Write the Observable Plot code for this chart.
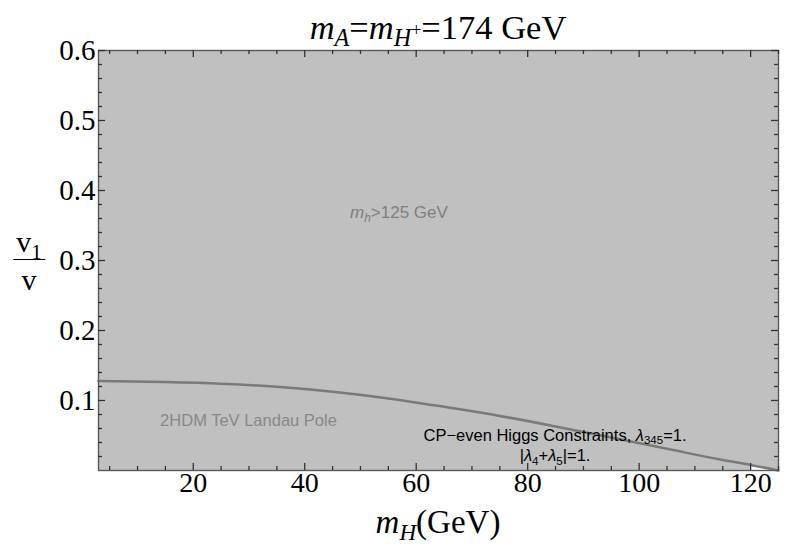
<!DOCTYPE html>
<html><head><meta charset="utf-8">
<script src="https://cdn.jsdelivr.net/npm/d3@7"></script>
<script src="https://cdn.jsdelivr.net/npm/@observablehq/plot@0.6"></script>
<style>
body{margin:0;background:#fff;}
#wrap{position:relative;width:785px;height:545px;overflow:hidden;}
.lbl{position:absolute;white-space:nowrap;line-height:1;transform:translate(-50%,-50%);}
.serif{font-family:"Liberation Serif","Times New Roman",serif;color:#000;}
.sans{font-family:"Liberation Sans",Arial,sans-serif;}
.sb{font-size:0.7em;position:relative;top:0.3em;}
.sp{font-size:0.75em;position:relative;top:-0.55em;}
.frac{display:inline-block;text-align:center;}
.frac .num{display:block;padding:0 3px 2px 3px;border-bottom:1.5px solid #000;}
.frac .den{display:block;padding-top:5px;}
</style></head><body><div id="wrap"></div>
<script>
// m_H (GeV) along the boundary curve, and v1/v on the curve
const mH    = [3,     15,     25,    35,     45,     55,    65,    75,    85,    95,    105,   115,   120,   125];
const ratio = [0.128, 0.1265, 0.124, 0.1195, 0.1125, 0.103, 0.091, 0.078, 0.063, 0.047, 0.031, 0.015, 0.008, 0.0];
const xMajor = [20, 40, 60, 80, 100, 120];
const xMinor = [5, 10, 15, 25, 30, 35, 45, 50, 55, 65, 70, 75, 85, 90, 95, 105, 110, 115, 125];
const yMajor = [0.1, 0.2, 0.3, 0.4, 0.5, 0.6];
const yMinor = [0.02,0.04,0.06,0.08,0.12,0.14,0.16,0.18,0.22,0.24,0.26,0.28,0.32,0.34,0.36,0.38,0.42,0.44,0.46,0.48,0.52,0.54,0.56,0.58];
const landauEnd = 120;

const data = mH.map((x, i) => ({x, y: ratio[i]}));
const serif = "Liberation Serif, Times New Roman, serif";
const grey = "#c0c0c0";
const tickCol = "#333";
const W = 785, H = 545, mL = 98, mR = 7, mT = 50, mB = 75;
const fw = W - mL - mR, fh = H - mT - mB;
const big = 7, small = 4;

const chart = Plot.plot({
  width: W, height: H,
  marginLeft: mL, marginRight: mR, marginTop: mT, marginBottom: mB,
  x: {domain: [3, 125], label: null},
  y: {domain: [0, 0.6], label: null},
  style: {background: "white", overflow: "visible"},
  marks: [
    Plot.areaY(data, {x: "x", y1: "y", y2: 0.6, fill: grey, curve: "monotone-x"}),
    Plot.areaY(data.filter(d => d.x <= landauEnd), {x: "x", y1: 0, y2: "y", fill: grey, curve: "monotone-x"}),
    Plot.line(data, {x: "x", y: "y", stroke: "#7a7a7a", strokeWidth: 2.5, curve: "monotone-x"}),
    Plot.frame({stroke: "#5a5a5a", strokeWidth: 1.4}),
    // inward ticks (bottom / top / left / right)
    Plot.tickX(xMajor, {x: d => d, insetTop: fh - big, stroke: tickCol, strokeWidth: 1.3}),
    Plot.tickX(xMinor, {x: d => d, insetTop: fh - small, stroke: tickCol, strokeWidth: 1.3}),
    Plot.tickX(xMajor, {x: d => d, insetBottom: fh - big, stroke: tickCol, strokeWidth: 1.3}),
    Plot.tickX(xMinor, {x: d => d, insetBottom: fh - small, stroke: tickCol, strokeWidth: 1.3}),
    Plot.tickY(yMajor, {y: d => d, insetRight: fw - big, stroke: tickCol, strokeWidth: 1.3}),
    Plot.tickY(yMinor, {y: d => d, insetRight: fw - small, stroke: tickCol, strokeWidth: 1.3}),
    Plot.tickY(yMajor, {y: d => d, insetLeft: fw - big, stroke: tickCol, strokeWidth: 1.3}),
    Plot.tickY(yMinor, {y: d => d, insetLeft: fw - small, stroke: tickCol, strokeWidth: 1.3}),
    // tick labels
    Plot.axisX({ticks: xMajor, tickSize: 0, tickPadding: 2, fontSize: 28, fontFamily: serif, fill: "#000", label: null}),
    Plot.axisY({ticks: yMajor, tickSize: 0, tickPadding: 3, fontSize: 29, fontFamily: serif, fill: "#000", label: null, tickFormat: d3.format(".1f")})
  ]
});
const wrap = document.getElementById("wrap");
wrap.appendChild(chart);

const xs = chart.scale("x"), ys = chart.scale("y");
function label(html, cls, left, top, style) {
  const d = document.createElement("div");
  d.className = "lbl " + cls;
  d.innerHTML = html;
  d.style.left = left + "px";
  d.style.top = top + "px";
  Object.assign(d.style, style || {});
  wrap.appendChild(d);
}
const xMid = (xs.range[0] + xs.range[1]) / 2;
// title
label('<i>m</i><span class="sb"><i>A</i></span>=<i>m</i><span class="sb"><i>H</i><span class="sp">+</span></span>=174 GeV',
      "serif", xMid, 27, {fontSize: "34.5px"});
// x label
label('<i>m</i><span class="sb"><i>H</i></span>(GeV)', "serif", xMid, 522, {fontSize: "33px"});
// y label
label('<span class="frac"><span class="num">v<span class="sb">1</span></span><span class="den">v</span></span>',
      "serif", 29, ys.apply(0.298), {fontSize: "30px"});
// annotations
label('<i>m</i><span class="sb"><i>h</i></span>&gt;125 GeV', "sans", xs.apply(57), ys.apply(0.368), {fontSize: "17px", color: "#7f7f7f"});
label('2HDM TeV Landau Pole', "sans", xs.apply(30), ys.apply(0.071), {fontSize: "16.5px", color: "#888"});
label('CP\u2212even Higgs Constraints, <i>\u03bb</i><span class="sb">345</span>=1.', "sans", xs.apply(85), ys.apply(0.05), {fontSize: "16.5px", color: "#000"});
label('|<i>\u03bb</i><span class="sb">4</span>+<i>\u03bb</i><span class="sb">5</span>|=1.', "sans", xs.apply(85), ys.apply(0.021), {fontSize: "16.5px", color: "#000"});
</script>
</body></html>
